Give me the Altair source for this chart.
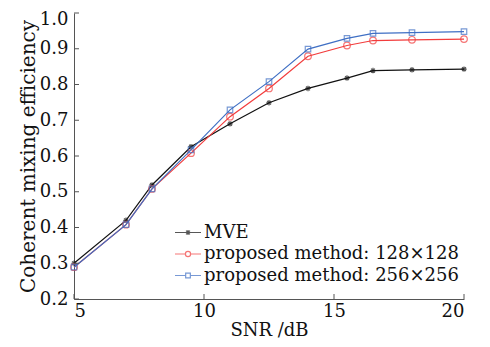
import altair as alt
import pandas as pd

snr = [5, 7, 8, 9.5, 11, 12.5, 14, 15.5, 16.5, 18, 20]
mve = [0.300, 0.420, 0.519, 0.626, 0.690, 0.749, 0.789, 0.818, 0.839, 0.841, 0.843]
p128 = [0.289, 0.408, 0.508, 0.608, 0.710, 0.789, 0.879, 0.909, 0.923, 0.925, 0.927]
p256 = [0.289, 0.408, 0.508, 0.617, 0.729, 0.808, 0.899, 0.929, 0.943, 0.945, 0.948]
series_names = ["MVE", "proposed method: 128×128", "proposed method: 256×256"]
colors = ["#111111", "#f23c3c", "#3f6fc4"]
x_ticks = [5, 10, 15, 20]
y_ticks = [0.2, 0.3, 0.4, 0.5, 0.6, 0.7, 0.8, 0.9, 1.0]

FONT = "DejaVu Serif"
AXC = "#555555"
XTITLE = "SNR /dB"
YTITLE = "Coherent mixing efficiency"

rows = []
for name, vals in zip(series_names, [mve, p128, p256]):
    for s, v in zip(snr, vals):
        rows.append({"snr": s, "eff": v, "series": name})
df = pd.DataFrame(rows)

xs = alt.Scale(domain=[5, 20], nice=False)
ys = alt.Scale(domain=[0.2, 1.0], nice=False)

star = "M-1,0H1M0,-1V1M-0.7,-0.7L0.7,0.7M-0.7,0.7L0.7,-0.7"
chart_shapes = [star, "circle", "square"]
chart_sizes = [30, 44, 30]

leg_paths = [
    "M-1,0H1M-0.2,0H0.2M0,-0.2V0.2M-0.15,-0.15L0.15,0.15M-0.15,0.15L0.15,-0.15",
    "M-1,0H-0.2M0.2,0H1M-0.2,0A0.2,0.2,0,1,0,0.2,0A0.2,0.2,0,1,0,-0.2,0",
    "M-1,0H-0.18M0.18,0H1M-0.18,-0.18H0.18V0.18H-0.18Z",
]

W, H = 390, 286


def xaxis():
    return alt.Axis(values=x_ticks, format="d", labelOverlap=False)


def yaxis():
    return alt.Axis(values=y_ticks, format=".1f", labelOverlap=False,
                    labelOffset=alt.condition("datum.value >= 0.99", alt.value(6), alt.value(0)))


def X(field):
    return alt.X(field, scale=xs, title=XTITLE, axis=xaxis())


def Y(field):
    return alt.Y(field, scale=ys, title=YTITLE, axis=yaxis())


base = alt.Chart(df)

layers = []
for name, col, shp, sz in zip(series_names, colors, chart_shapes, chart_sizes):
    sub = base.transform_filter(alt.datum.series == name)
    layers.append(sub.mark_line(strokeWidth=1.2, color=col).encode(x=X("snr:Q"), y=Y("eff:Q")))
    layers.append(
        sub.mark_point(filled=False, strokeWidth=1.2, color=col, shape=shp, size=sz)
        .encode(x=X("snr:Q"), y=Y("eff:Q"))
    )

legend_layer = base.transform_filter("datum.snr < 0").mark_point(
    filled=False, strokeWidth=1.2
).encode(
    x=X("snr:Q"),
    y=Y("eff:Q"),
    color=alt.Color("series:N", scale=alt.Scale(domain=series_names, range=colors),
                    legend=alt.Legend(
                        title=None, orient="none", legendX=100, legendY=209,
                        labelFont=FONT, labelFontSize=18, labelColor="#111111",
                        symbolSize=676, symbolStrokeWidth=1.2,
                        symbolFillColor="transparent",
                        clipHeight=21, rowPadding=0.5, padding=0, labelOffset=2,
                        labelLimit=400,
                    )),
    shape=alt.Shape("series:N", scale=alt.Scale(domain=series_names, range=leg_paths)),
)

ydf = pd.DataFrame({"v": y_ticks})
xdf = pd.DataFrame({"v": x_ticks})
ytick_rules = alt.Chart(ydf).mark_rule(color=AXC, strokeWidth=1).encode(
    y=Y("v:Q"), x=alt.value(0), x2=alt.value(5)
)
xtick_rules = alt.Chart(xdf).mark_rule(color=AXC, strokeWidth=1).encode(
    x=X("v:Q"), y=alt.value(H), y2=alt.value(H - 5)
)

chart = alt.layer(*layers, legend_layer, ytick_rules, xtick_rules).properties(
    width=W, height=H,
    autosize=alt.AutoSizeParams(type="none"),
    padding={"left": 66, "top": 5, "right": 18, "bottom": 40},
).configure_view(stroke=None).configure_axis(
    grid=False, domainColor=AXC, tickSize=0, labelFont=FONT, labelFontSize=18,
    labelColor="#111111", titleFont=FONT, titleFontWeight="normal",
    titleColor="#111111", labelPadding=6, labelOverlap=False,
).configure_axisY(titlePadding=1, titleFontSize=20).configure_axisX(
    titlePadding=1, labelPadding=3, titleFontSize=18)

chart.save("out.html", embed_options={"renderer": "svg", "actions": False})
